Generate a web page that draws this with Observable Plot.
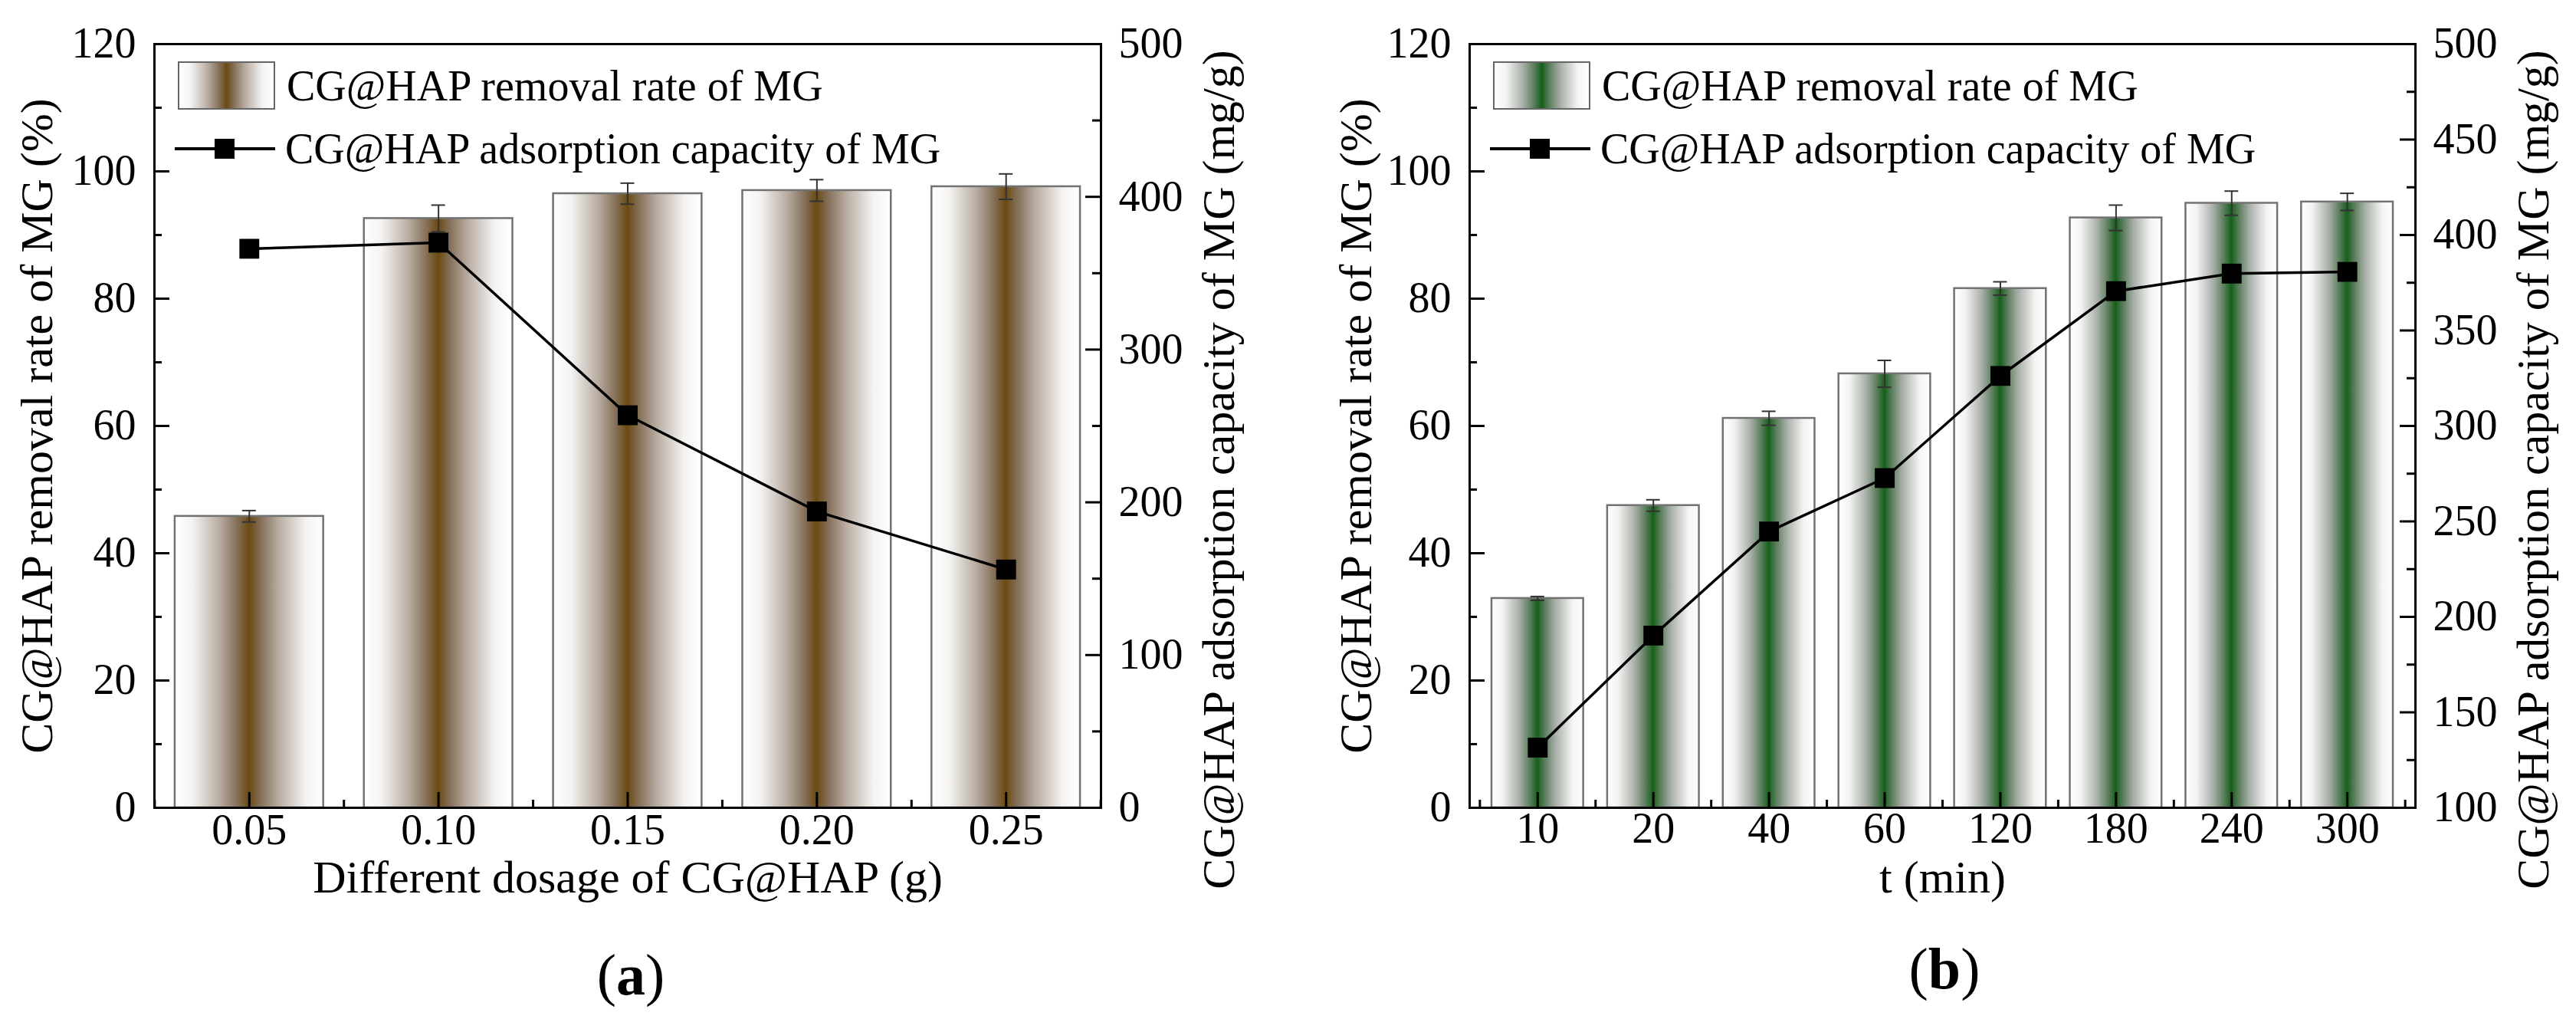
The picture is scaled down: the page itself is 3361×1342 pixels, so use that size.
<!DOCTYPE html>
<html>
<head>
<meta charset="utf-8">
<script src="https://cdn.jsdelivr.net/npm/d3@7"></script>
<script src="https://cdn.jsdelivr.net/npm/@observablehq/plot@0.6"></script>
<style>
  body { margin: 0; background: white; }
  #fig { position: relative; width: 3361px; height: 1342px; background: white; font-family: "Liberation Serif", "Times New Roman", serif; color: black; }
  .panel { position: absolute; top: 0; }
  .leg-text { position: absolute; font-size: 56px; line-height: 70px; height: 70px; white-space: nowrap; }
  .swatch { position: absolute; box-sizing: border-box; border: 2.5px solid #666; }
  .leg-line { position: absolute; height: 3.5px; background: black; }
  .leg-mark { position: absolute; width: 26px; height: 26px; background: black; }
  .tag { position: absolute; font-size: 76px; line-height: 90px; height: 90px; width: 200px; text-align: center; }
</style>
</head>
<body>
<div id="fig"></div>
<script>
// panel (a): dosage series
const dosageLabels = ["0.05", "0.10", "0.15", "0.20", "0.25"];
const dosageRemoval = [45.8, 92.6, 96.5, 97.0, 97.6];
const dosageRemovalErr = [0.9, 2.1, 1.65, 1.7, 2.0];
const dosageCapacity = [366, 370, 257, 194, 156];

// panel (b): contact time series
const timeLabels = ["10", "20", "40", "60", "120", "180", "240", "300"];
const timeRemoval = [32.9, 47.5, 61.2, 68.2, 81.6, 92.7, 95.0, 95.2];
const timeRemovalErr = [0.3, 0.9, 1.1, 2.1, 1.05, 2.0, 1.9, 1.35];
const timeCapacity = [131.5, 190.2, 244.7, 272.7, 326.2, 370.6, 379.8, 380.7];

// tick labels
const leftTicks = [0, 20, 40, 60, 80, 100, 120];
const leftMinor = [10, 30, 50, 70, 90, 110];
const rightTicksA = [0, 100, 200, 300, 400, 500];
const rightMinorA = [50, 150, 250, 350, 450];
const rightTicksB = [100, 150, 200, 250, 300, 350, 400, 450, 500];
const rightMinorB = [125, 175, 225, 275, 325, 375, 425, 475];

const rateTitle = "CG@HAP removal rate of MG (%)";
const capTitle = "CG@HAP adsorption capacity of MG (mg/g)";
const fontFamily = "'Liberation Serif', 'Times New Roman', serif";

function gradientDefs(id, core, mid1, mid2) {
  return () => {
    const defs = d3.create("svg:defs");
    const g = defs.append("linearGradient").attr("id", id)
      .attr("x1", "0").attr("x2", "1").attr("y1", "0").attr("y2", "0");
    const stops = [[0, "#ffffff"], [0.12, "#f4f3f2"], [0.3, mid1], [0.42, mid2], [0.5, core],
                   [0.58, mid2], [0.7, mid1], [0.88, "#f4f3f2"], [1, "#ffffff"]];
    for (const [o, c] of stops) g.append("stop").attr("offset", o).attr("stop-color", c);
    return defs.node();
  };
}

function panel(cfg) {
  const height = 1200, marginTop = 57, marginBottom = 147;
  const plotW = cfg.width - cfg.marginLeft - cfg.marginRight;
  const plotH = height - marginTop - marginBottom;
  const n = cfg.labels.length;
  const step = plotW / (n - cfg.paddingInner + 2 * cfg.paddingOuter);
  const bw = step * (1 - cfg.paddingInner);
  const capW = 18;

  const bars = cfg.labels.map((c, i) => ({cat: c, rate: cfg.removal[i], err: cfg.err[i], cap: cfg.capacity[i]}));

  return Plot.plot({
    width: cfg.width,
    height,
    marginTop, marginBottom,
    marginLeft: cfg.marginLeft, marginRight: cfg.marginRight,
    style: {fontFamily, color: "black", background: "white", overflow: "visible"},
    x: {type: "band", domain: cfg.labels, paddingInner: cfg.paddingInner, paddingOuter: cfg.paddingOuter, round: false, axis: null},
    y: {domain: [0, 120], axis: null},
    marks: [
      gradientDefs(cfg.gradId, cfg.core, cfg.mid1, cfg.mid2),
      Plot.barY(bars, {x: "cat", y: "rate", fill: `url(#${cfg.gradId})`, stroke: "#727272", strokeWidth: 2.5}),
      Plot.ruleX(bars, {x: "cat", y1: d => d.rate - d.err, y2: d => d.rate + d.err, stroke: "#333", strokeWidth: 2}),
      Plot.tickY(bars, {x: "cat", y: d => d.rate + d.err, stroke: "#333", strokeWidth: 2, insetLeft: (bw - capW) / 2, insetRight: (bw - capW) / 2}),
      Plot.tickY(bars, {x: "cat", y: d => d.rate - d.err, stroke: "#333", strokeWidth: 2, insetLeft: (bw - capW) / 2, insetRight: (bw - capW) / 2}),
      Plot.line(bars, {x: "cat", y: d => cfg.capToLeft(d.cap), stroke: "black", strokeWidth: 3.5}),
      Plot.dot(bars, {x: "cat", y: d => cfg.capToLeft(d.cap), symbol: "square", r: 14.6, fill: "black", stroke: "none"}),
      Plot.frame({stroke: "black", strokeWidth: 3}),
      // inward ticks, left axis
      Plot.tickY(leftTicks, {y: d => d, insetRight: plotW - 20, stroke: "black", strokeWidth: 3}),
      Plot.tickY(leftMinor, {y: d => d, insetRight: plotW - 10, stroke: "black", strokeWidth: 3}),
      // inward ticks, right axis
      Plot.tickY(cfg.rightTicks, {y: d => cfg.capToLeft(d), insetLeft: plotW - 20, stroke: "black", strokeWidth: 3}),
      Plot.tickY(cfg.rightMinor, {y: d => cfg.capToLeft(d), insetLeft: plotW - 11, stroke: "black", strokeWidth: 3}),
      // inward ticks, bottom axis
      Plot.tickX(cfg.labels, {x: d => d, insetTop: plotH - 20, stroke: "black", strokeWidth: 3}),
      Plot.tickX(cfg.labels, {x: d => d, dx: -step / 2, insetTop: plotH - 10, stroke: "black", strokeWidth: 3}),
      Plot.tickX(cfg.labels.slice(-1), {x: d => d, dx: step / 2, insetTop: plotH - 10, stroke: "black", strokeWidth: 3}),
      // tick labels
      Plot.text(leftTicks, {y: d => d, text: d => String(d), frameAnchor: "left", textAnchor: "end", dx: -24, fontSize: 56}),
      Plot.text(cfg.rightTicks, {y: d => cfg.capToLeft(d), text: d => String(d), frameAnchor: "right", textAnchor: "start", dx: 23, fontSize: 56}),
      Plot.text(cfg.labels, {x: d => d, text: d => d, frameAnchor: "bottom", dy: cfg.xTickDy, fontSize: 56}),
      // axis titles
      Plot.text([rateTitle], {text: d => d, frameAnchor: "left", textAnchor: "middle", rotate: -90, dx: cfg.leftTitleDx, fontSize: 60}),
      Plot.text([capTitle], {text: d => d, frameAnchor: "right", textAnchor: "middle", rotate: -90, dx: 154, dy: 57, fontSize: 60}),
      Plot.text([cfg.xTitle], {text: d => d, frameAnchor: "bottom", dy: 110, fontSize: 60})
    ]
  });
}

const fig = document.getElementById("fig");

const chartA = panel({
  labels: dosageLabels, removal: dosageRemoval, err: dosageRemovalErr, capacity: dosageCapacity,
  capToLeft: v => v * 120 / 500,
  rightTicks: rightTicksA, rightMinor: rightMinorA,
  width: 1680, marginLeft: 201, marginRight: 244,
  paddingInner: 0.215, paddingOuter: 0.109,
  gradId: "gradBrown", core: "#6b4a12", mid1: "#b9ada2", mid2: "#85705a",
  xTitle: "Different dosage of CG@HAP (g)", xTickDy: 47, leftTitleDx: -153
});
const chartB = panel({
  labels: timeLabels, removal: timeRemoval, err: timeRemovalErr, capacity: timeCapacity,
  capToLeft: v => (v - 100) * 120 / 400,
  rightTicks: rightTicksB, rightMinor: rightMinorB,
  width: 1681, marginLeft: 237, marginRight: 210,
  paddingInner: 0.207, paddingOuter: 0.192,
  gradId: "gradGreen", core: "#16601a", mid1: "#a9b0a9", mid2: "#5a7d5c",
  xTitle: "t (min)", xTickDy: 45, leftTitleDx: -148
});

const wrapA = d3.select(fig).append("div").attr("class", "panel").style("left", "0px");
wrapA.append(() => chartA);
const wrapB = d3.select(fig).append("div").attr("class", "panel").style("left", "1680px");
wrapB.append(() => chartB);

// legends (inside the plot frames)
function legend(x0, y1, core, mid1, mid2) {
  const f = d3.select(fig);
  f.append("div").attr("class", "swatch")
    .style("left", x0 + "px").style("top", (y1 - 32) + "px")
    .style("width", "127px").style("height", "63px")
    .style("background", `linear-gradient(to right, #fff 0%, #f4f3f2 12%, ${mid1} 30%, ${mid2} 42%, ${core} 50%, ${mid2} 58%, ${mid1} 70%, #f4f3f2 88%, #fff 100%)`);
  f.append("div").attr("class", "leg-text")
    .style("left", (x0 + 142) + "px").style("top", (y1 - 35) + "px")
    .text("CG@HAP removal rate of MG");
  const y2 = y1 + 82;
  f.append("div").attr("class", "leg-line")
    .style("left", (x0 - 4) + "px").style("top", (y2 - 2) + "px").style("width", "131px");
  f.append("div").attr("class", "leg-mark")
    .style("left", (x0 + 48) + "px").style("top", (y2 - 13) + "px");
  f.append("div").attr("class", "leg-text")
    .style("left", (x0 + 140) + "px").style("top", (y2 - 35) + "px")
    .text("CG@HAP adsorption capacity of MG");
}
legend(232, 112, "#6b4a12", "#b9ada2", "#85705a");
legend(1948, 112, "#16601a", "#a9b0a9", "#5a7d5c");

// panel tags
d3.select(fig).append("div").attr("class", "tag")
  .style("left", (823 - 100) + "px").style("top", (1271 - 45) + "px")
  .html("(<b>a</b>)");
d3.select(fig).append("div").attr("class", "tag")
  .style("left", (2537 - 100) + "px").style("top", (1263 - 45) + "px")
  .html("(<b>b</b>)");
</script>
</body>
</html>
